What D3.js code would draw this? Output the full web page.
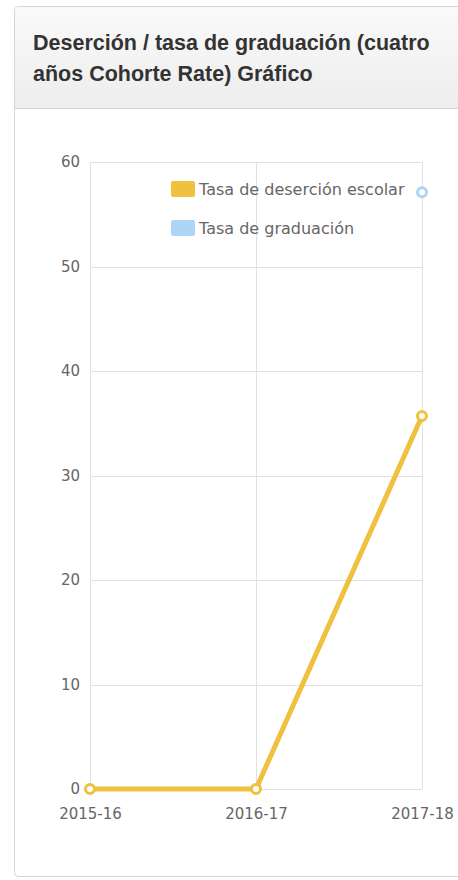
<!DOCTYPE html>
<html>
<head>
<meta charset="utf-8">
<script src="https://cdn.jsdelivr.net/npm/d3@7"></script>
<style>
    body { margin: 0; background: #fff; font-family: Arial, "Liberation Sans", sans-serif; }
    svg { display: block; }
</style>
</head>
<body>
<div id="chart"></div>
<script>
// Chart values
const years = ["2015-16", "2016-17", "2017-18"];
const dropout = [0, 0, 35.7];
const graduation = [null, null, 57.1];
const y_ticks = [0, 10, 20, 30, 40, 50, 60];
const series_names = ["Tasa de deserción escolar", "Tasa de graduación"];
const series_colors = ["#f0c13e", "#acd5f7"];

const width = 458, height = 880;
const label_font = "'DejaVu Sans', Verdana, sans-serif";
const svg = d3.select("#chart").append("svg")
    .attr("width", width)
    .attr("height", height);

// Card with gradient header
const defs = svg.append("defs");
const grad = defs.append("linearGradient").attr("id", "head").attr("x1", 0).attr("y1", 0).attr("x2", 0).attr("y2", 1);
grad.append("stop").attr("offset", "0%").attr("stop-color", "#fafafa");
grad.append("stop").attr("offset", "100%").attr("stop-color", "#ededed");

svg.append("rect")
    .attr("x", 14.5).attr("y", 6.5)
    .attr("width", 470).attr("height", 870)
    .attr("rx", 4)
    .attr("fill", "#fff")
    .attr("stroke", "#d6d6d6");
svg.append("path")
    .attr("d", "M15,108 V11 Q15,7 19,7 H458 V108 Z")
    .attr("fill", "url(#head)");
svg.append("line")
    .attr("x1", 15).attr("x2", 458)
    .attr("y1", 108.5).attr("y2", 108.5)
    .attr("stroke", "#d6d6d6");

const title = svg.append("text")
    .attr("fill", "#333")
    .attr("font-size", "21.5px")
    .attr("font-weight", "bold");
title.append("tspan").attr("x", 33).attr("y", 50).text("Deserción / tasa de graduación (cuatro");
title.append("tspan").attr("x", 33).attr("y", 81).text("años Cohorte Rate) Gráfico");

// Scales
const x = d3.scalePoint().domain(years).range([90, 422]);
const y = d3.scaleLinear().domain([0, 60]).range([789, 162]);

// Grid
const grid = svg.append("g");
grid.selectAll(".hgrid")
    .data(y_ticks)
    .join("line")
    .attr("x1", x.range()[0]).attr("x2", x.range()[1])
    .attr("y1", d => Math.round(y(d)) + 0.5).attr("y2", d => Math.round(y(d)) + 0.5)
    .attr("stroke", "#e1e1e1");
grid.selectAll(".vgrid")
    .data(years)
    .join("line")
    .attr("x1", d => Math.round(x(d)) + 0.5).attr("x2", d => Math.round(x(d)) + 0.5)
    .attr("y1", y(60)).attr("y2", y(0))
    .attr("stroke", "#e1e1e1");

// Axes labels
const y_axis = svg.append("g")
    .attr("transform", `translate(${x.range()[0]},0)`)
    .call(d3.axisLeft(y).tickValues(y_ticks).tickSize(0).tickPadding(10));
y_axis.select(".domain").remove();
y_axis.selectAll("text").attr("fill", "#666").attr("font-size", "15px").attr("font-family", label_font);

const x_axis = svg.append("g")
    .attr("transform", `translate(0,${y(0)})`)
    .call(d3.axisBottom(x).tickSize(0).tickPadding(19));
x_axis.select(".domain").remove();
x_axis.selectAll("text").attr("fill", "#666").attr("font-size", "15px").attr("font-family", label_font);

// Lines and points
const all_series = [dropout, graduation];
const line = d3.line()
    .defined(d => d.v !== null)
    .x(d => x(d.year))
    .y(d => y(d.v));

all_series.forEach((values, i) => {
    const pts = years.map((year, j) => ({ year, v: values[j] }));
    svg.append("path")
        .datum(pts)
        .attr("d", line)
        .attr("fill", "none")
        .attr("stroke", series_colors[i])
        .attr("stroke-width", 5)
        .attr("stroke-linejoin", "round");
    svg.selectAll(".pt" + i)
        .data(pts.filter(d => d.v !== null))
        .join("circle")
        .attr("cx", d => x(d.year))
        .attr("cy", d => y(d.v))
        .attr("r", 4.5)
        .attr("fill", "#fff")
        .attr("stroke", series_colors[i])
        .attr("stroke-width", 3);
});

// Legend
const legend = svg.append("g");
series_names.forEach((name, i) => {
    const ly = 189 + i * 39;
    legend.append("rect")
        .attr("x", 171).attr("y", ly - 8)
        .attr("width", 24).attr("height", 16)
        .attr("rx", 2)
        .attr("fill", series_colors[i]);
    legend.append("text")
        .attr("x", 199).attr("y", ly)
        .attr("dy", "0.35em")
        .attr("fill", "#666")
        .attr("font-size", "16px")
        .attr("font-family", label_font)
        .text(name);
});
</script>
</body>
</html>
